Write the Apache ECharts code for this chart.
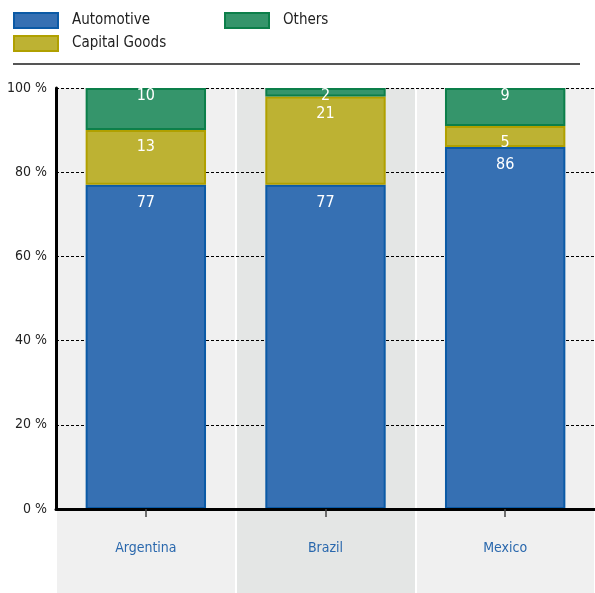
<!DOCTYPE html>
<html><head><meta charset="utf-8">
<script src="https://cdn.jsdelivr.net/npm/echarts@6/dist/echarts.min.js"></script>
<style>html,body{margin:0;padding:0;background:#fff}#c{width:595px;height:593px}</style>
</head><body><div id="c"></div>
<script>
var categories = ['Argentina', 'Brazil', 'Mexico'];
var automotive = [77, 77, 86];
var capitalGoods = [13, 21, 5];
var others = [10, 2, 9];
var yTicks = [0, 20, 40, 60, 80, 100];

var FONT = "'DejaVu Sans Condensed', 'Liberation Sans Narrow', sans-serif";
var chart = echarts.init(document.getElementById('c'), null, {renderer: 'canvas'});
function seg(name, data, fill, border, dist) {
  return {
    name: name, type: 'bar', stack: 's', data: data,
    xAxisIndex: 1, yAxisIndex: 1, barWidth: '67%', z: 2,
    itemStyle: {color: fill, borderColor: border, borderWidth: 2},
    label: {show: true, position: 'insideTop', distance: dist, color: '#fff', fontSize: 16, fontFamily: FONT},
    emphasis: {disabled: true}
  };
}
var legendText = {fontSize: 15, color: '#222', fontFamily: FONT, padding: [0, 0, 0, 9]};
chart.setOption({
  animation: false,
  textStyle: {fontFamily: FONT},
  legend: [
    {data: ['Automotive', 'Capital Goods'], orient: 'vertical', left: 13, top: 12, padding: 0, icon: 'rect',
     itemWidth: 44, itemHeight: 15, itemGap: 6, textStyle: legendText, selectedMode: false},
    {data: ['Others'], orient: 'vertical', left: 224, top: 12, padding: 0, icon: 'rect',
     itemWidth: 44, itemHeight: 15, itemGap: 6, textStyle: legendText, selectedMode: false}
  ],
  graphic: [{type: 'line', shape: {x1: 13, y1: 64, x2: 580, y2: 64}, style: {stroke: '#555', lineWidth: 2}}],
  grid: [
    {left: 56, right: 0, top: 88, bottom: 0},
    {left: 56, right: 0, top: 88, bottom: 84}
  ],
  xAxis: [
    {type: 'category', gridIndex: 0, data: categories, z: 0,
     axisLine: {show: false}, axisTick: {show: false}, axisLabel: {show: false},
     splitArea: {show: true, areaStyle: {color: ['#f0f0f0', '#e4e6e5']}},
     splitLine: {show: true, lineStyle: {color: '#fff', width: 2}}},
    {type: 'category', gridIndex: 1, data: categories, z: 3,
     axisLine: {show: true, lineStyle: {color: '#000', width: 3}},
     axisTick: {show: true, alignWithLabel: true, length: 8, lineStyle: {color: '#444', width: 1.5}},
     axisLabel: {color: '#2a68ad', fontSize: 14, margin: 32, fontFamily: FONT}}
  ],
  yAxis: [
    {type: 'value', gridIndex: 0, show: false, splitLine: {show: false}},
    {type: 'value', gridIndex: 1, min: 0, max: 100, interval: 20, z: 1,
     axisLine: {show: true, lineStyle: {color: '#000', width: 3}},
     axisTick: {show: false},
     axisLabel: {formatter: '{value} %', color: '#222', fontSize: 14, margin: 9, fontFamily: FONT},
     splitLine: {show: true, lineStyle: {color: '#000', type: [3, 2], width: 1}}}
  ],
  series: [
    seg('Automotive', automotive, '#3670b3', '#0b5aa6', 10),
    seg('Capital Goods', capitalGoods, '#bdb233', '#b0a000', 9),
    seg('Others', others, '#35956b', '#0c7f4a', 0)
  ]
});
</script></body></html>
